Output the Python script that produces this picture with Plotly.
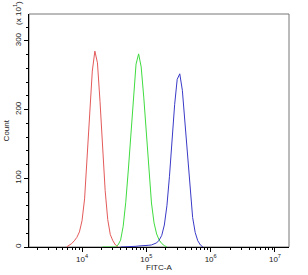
import plotly.graph_objects as go

# Histogram bins (log10 of FITC-A), shared by all samples
BIN_START = 3.64
BIN_STEP = 0.04
N_BINS = 62
bins_log = [round(BIN_START + BIN_STEP * i, 2) for i in range(N_BINS)]

# Counts (x 10^1)
red_start = 3
red_counts = [0, 2, 5, 9, 14, 22, 38, 70, 128, 196, 256, 285, 268, 212, 143,
              82, 40, 18, 9, 3, 0]

green_start = 17
green_counts = [0, 0, 0, 0, 0, 0, 3, 10, 30, 65, 112, 168, 224, 266, 281, 262,
                218, 162, 108, 64, 35, 19, 10, 5, 2, 0]

blue_start = 24
blue_counts = [0, 0, 0.5, 0.5, 1, 1, 1, 1.5, 1.5, 2, 2, 2.5, 3, 4, 6, 10, 17,
               32, 60, 103, 156, 207, 244, 252, 228, 182, 128, 80, 43, 21, 9,
               3, 0]

series = [
    (red_start, red_counts, "#e45a5a"),
    (green_start, green_counts, "#3fdc3f"),
    (blue_start, blue_counts, "#3a3ac8"),
]

x_tickvals = [1e4, 1e5, 1e6, 1e7]
x_ticktext = ["10<sup>4</sup>", "10<sup>5</sup>", "10<sup>6</sup>", "10<sup>7</sup>"]
x_minor = [m * 10 ** e for e in range(3, 8) for m in range(2, 10)]
y_tickvals = [0, 100, 200, 300]

fig = go.Figure()
for start, counts, color in series:
    xs = [10 ** bins_log[start + i] for i in range(len(counts))]
    fig.add_trace(go.Scatter(x=xs, y=counts, mode="lines",
                             line=dict(color=color, width=1),
                             hoverinfo="skip"))

font = dict(family="Liberation Sans, Arial, sans-serif", size=8, color="#222")

fig.update_layout(
    width=308, height=275,
    margin=dict(l=29, r=19, t=14, b=28),
    paper_bgcolor="white", plot_bgcolor="white",
    showlegend=False,
    font=font,
    xaxis=dict(
        type="log", range=[3.176, 7.218],
        showline=True, linecolor="black", linewidth=1,
        ticks="outside", ticklen=4, tickwidth=1, tickcolor="black",
        tickmode="array", tickvals=x_tickvals, ticktext=x_ticktext,
        tickfont=font, showgrid=False, zeroline=False,
        minor=dict(tickmode="array", tickvals=x_minor, ticks="outside",
                   ticklen=2, tickcolor="black", showgrid=False),
    ),
    yaxis=dict(
        range=[0, 339],
        showline=True, linecolor="black", linewidth=1,
        ticks="outside", ticklen=4, tickwidth=1, tickcolor="black",
        tickmode="array", tickvals=y_tickvals, tickangle=-90,
        tickfont=font, showgrid=False, zeroline=False,
        minor=dict(dtick=20, ticks="outside", ticklen=2, tickcolor="black",
                   showgrid=False),
    ),
    shapes=[dict(type="rect", xref="paper", yref="paper", x0=0, y0=0, x1=1, y1=1,
                 line=dict(color="#777", width=1), layer="below")],
    annotations=[
        dict(text="Count", xref="paper", yref="paper", x=-0.085, y=0.5,
             textangle=-90, showarrow=False, font=font,
             xanchor="center", yanchor="middle"),
        dict(text="(x 10<sup>1</sup>)", xref="paper", yref="paper", x=-0.046, y=1.005,
             textangle=-90, showarrow=False, font=font,
             xanchor="center", yanchor="middle"),
        dict(text="FITC-A", xref="paper", yref="paper", x=0.5, y=-0.09,
             showarrow=False, font=font, xanchor="center", yanchor="middle"),
    ],
)

fig.write_html("out.html")
